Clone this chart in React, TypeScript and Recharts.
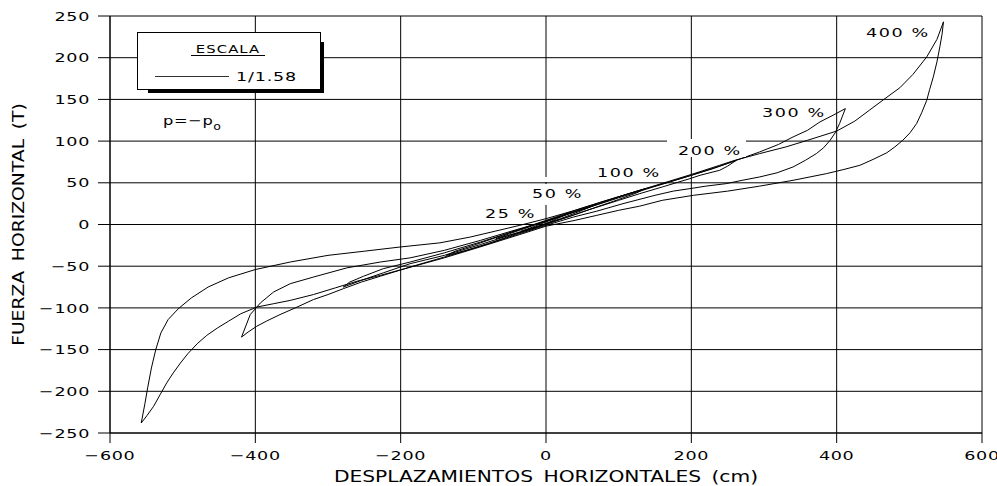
import { LineChart, Line, XAxis, YAxis, CartesianGrid } from "recharts";

const FONT = "DejaVu Sans";

const xTicks = [-600, -400, -200, 0, 200, 400, 600];
const yTicks = [-250, -200, -150, -100, -50, 0, 50, 100, 150, 200, 250];

// loops: [displacement cm, force T]; "up" = increasing displacement, "down" = returning
const loop400Up: [number, number][] = [
  [-557, -238], [-552, -215], [-548, -195], [-543, -172], [-537, -150], [-530, -130],
  [-520, -114], [-506, -101], [-488, -88], [-465, -75], [-437, -64], [-400, -54],
  [-352, -45], [-300, -37], [-250, -32], [-201, -27], [-146, -22], [-104, -15],
  [-70, -8], [-36, -1], [0, 7], [40, 17], [80, 28], [129, 41], [170, 52], [200, 60],
  [239, 71], [260, 77], [294, 85], [330, 93], [360, 101], [400, 112], [425, 124],
  [445, 137], [465, 150], [487, 164], [505, 180], [524, 201], [538, 222], [547, 243],
];
const loop400Down: [number, number][] = [
  [545, 228], [542, 213], [538, 195], [533, 177], [528, 162], [524, 149], [517, 134],
  [510, 121], [501, 110], [491, 101], [480, 93], [469, 86], [450, 78], [432, 71],
  [410, 66], [386, 61], [340, 53], [294, 46], [250, 40], [203, 35], [160, 29],
  [129, 22], [100, 17], [70, 11], [40, 5], [0, -2], [-36, -12], [-91, -27],
  [-140, -40], [-190, -52], [-228, -61], [-260, -68], [-290, -76], [-320, -84],
  [-352, -91], [-375, -95], [-398, -99], [-420, -107], [-437, -116], [-452, -124],
  [-467, -133], [-480, -143], [-493, -155], [-503, -166], [-513, -178], [-522, -190],
  [-531, -204], [-540, -218], [-549, -229], [-557, -238],
];

const loop300Up: [number, number][] = [
  [-419, -135], [-407, -108], [-398, -99], [-393, -94], [-375, -81], [-352, -71],
  [-320, -63], [-274, -52], [-228, -45], [-187, -40], [-140, -31], [-90, -19],
  [-40, -6], [0, 4], [50, 18], [100, 33], [129, 41], [170, 51], [200, 59], [239, 70],
  [262, 77], [294, 87], [320, 96], [340, 105], [360, 113], [377, 123], [395, 131],
  [412, 139],
];
const loop300Down: [number, number][] = [
  [408, 130], [404, 121], [398, 110], [391, 101], [382, 92], [372, 85], [357, 77],
  [340, 69], [318, 62], [294, 57], [270, 53], [248, 49], [220, 46], [198, 43],
  [175, 40], [150, 35], [106, 25], [70, 16], [38, 9], [0, -1], [-40, -12], [-90, -26],
  [-140, -39], [-187, -51], [-228, -62], [-254, -69], [-279, -77], [-300, -84],
  [-320, -90], [-345, -100], [-366, -108], [-385, -116], [-398, -122], [-410, -129],
  [-419, -135],
];

const loop200Up: [number, number][] = [
  [-279, -75], [-270, -69], [-251, -62], [-224, -53], [-187, -45], [-140, -34],
  [-90, -21], [-40, -7], [0, 4], [50, 18], [100, 32], [129, 40], [170, 51],
  [200, 59], [230, 67], [262, 77],
];
const loop200Down: [number, number][] = [
  [250, 70], [239, 65], [212, 59], [198, 55], [160, 45], [129, 37], [100, 29],
  [60, 18], [30, 9], [0, 1], [-40, -10], [-90, -24], [-140, -37], [-187, -47],
  [-224, -58], [-251, -66], [-279, -75],
];

const loop100Up: [number, number][] = [
  [-137, -37], [-125, -32], [-100, -25], [-60, -13], [-20, -1], [0, 5], [40, 17],
  [80, 28], [110, 36], [137, 43],
];
const loop100Down: [number, number][] = [
  [125, 38], [100, 30], [60, 18], [20, 6], [0, 0], [-40, -11], [-80, -23],
  [-110, -31], [-137, -37],
];

const loop50Up: [number, number][] = [
  [-69, -17], [-50, -11], [-20, -2], [0, 4], [30, 13], [69, 24],
];
const loop50Down: [number, number][] = [
  [50, 17], [20, 7], [0, 1], [-30, -8], [-69, -17],
];

const loop25Up: [number, number][] = [
  [-34, -8], [-15, -2], [0, 3], [15, 8], [34, 14],
];
const loop25Down: [number, number][] = [
  [15, 7], [0, 1], [-15, -4], [-34, -8],
];

const loops = [
  { name: "400", up: loop400Up, down: loop400Down },
  { name: "300", up: loop300Up, down: loop300Down },
  { name: "200", up: loop200Up, down: loop200Down },
  { name: "100", up: loop100Up, down: loop100Down },
  { name: "50", up: loop50Up, down: loop50Down },
  { name: "25", up: loop25Up, down: loop25Down },
];

const loopLabels = [
  { text: "25 %", x: 485, y: 218 },
  { text: "50 %", x: 532, y: 198 },
  { text: "100 %", x: 597, y: 177 },
  { text: "200 %", x: 678, y: 155 },
  { text: "300 %", x: 762, y: 117 },
  { text: "400 %", x: 866, y: 37 },
];

const fmt = (v: number) => String(v).replace("-", "\u2212");

// wide CAD-like lettering: DejaVu stretched horizontally
const SX = 1.35;

function WideText({ x, y, anchor, size, dy, spacing = 0.5, words = 0, sx = SX, children }: any) {
  return (
    <g transform={`translate(${x},${y}) scale(${sx},1)`}>
      <text
        x={0}
        y={0}
        dy={dy}
        textAnchor={anchor}
        fontFamily={FONT}
        fontSize={size}
        letterSpacing={spacing}
        wordSpacing={words}
        fill="#000"
        style={{ whiteSpace: "pre" }}
      >
        {children}
      </text>
    </g>
  );
}

const XTick = (p: any) => (
  <WideText x={p.x} y={p.y} anchor="middle" size={13} dy="0.71em">
    {fmt(p.payload.value)}
  </WideText>
);

const YTick = (p: any) => (
  <WideText x={p.x} y={p.y} anchor="end" size={13} dy="0.36em">
    {fmt(p.payload.value)}
  </WideText>
);

function Overlay() {
  return (
    <svg
      width={997}
      height={486}
      style={{ position: "absolute", left: 0, top: 0, pointerEvents: "none" }}
    >
      {/* text masks over the grid */}
      <rect x={667} y={139} width={79} height={18} fill="#fff" />
      <rect x={543} y={177} width={6} height={5} fill="#fff" />
      <rect x={543} y={184} width={6} height={21} fill="#fff" />

      {loopLabels.map((l) => (
        <WideText key={l.text} x={l.x} y={l.y} anchor="start" size={13} spacing={1.2}>
          {l.text}
        </WideText>
      ))}

      {/* scale box */}
      <rect x={148} y={42} width={176} height={51} fill="#000" />
      <rect x={137.5} y={32.5} width={183} height={57} fill="#fff" stroke="#000" strokeWidth={1} />
      <WideText x={228} y={52.5} anchor="middle" size={11} spacing={0.8}>
        ESCALA
      </WideText>
      <line x1={191} x2={265} y1={55.5} y2={55.5} stroke="#000" strokeWidth={1} />
      <line x1={155} x2={229} y1={76.5} y2={76.5} stroke="#333" strokeWidth={1} />
      <WideText x={236} y={81} anchor="start" size={13} spacing={0.6}>
        1/1.58
      </WideText>

      <g transform="translate(163,125) scale(1.25,1)">
        <text x={0} y={0} fontFamily={FONT} fontSize={13} letterSpacing={0.5} fill="#000">
          p=−p
          <tspan fontSize={10} dy={5}>o</tspan>
        </text>
      </g>
    </svg>
  );
}

export default function App() {
  return (
    <div style={{ position: "absolute", left: 0, top: 0, width: 997, height: 486, background: "#fff" }}>
      <LineChart width={997} height={486} margin={{ top: 16, right: 15, bottom: 0, left: 0 }}>
        <CartesianGrid stroke="#000" strokeWidth={1} />
        <XAxis
          type="number"
          dataKey="x"
          domain={[-600, 600]}
          ticks={xTicks}
          allowDataOverflow
          height={53}
          tickSize={10}
          tickMargin={8}
          tick={XTick}
          axisLine={{ stroke: "#000" }}
          tickLine={{ stroke: "#000" }}
          label={{
            content: ({ viewBox }: any) => (
              <WideText
                x={viewBox.x + viewBox.width / 2}
                y={482}
                anchor="middle"
                size={15}
                spacing={0}
                words={3}
              >
                DESPLAZAMIENTOS HORIZONTALES (cm)
              </WideText>
            ),
          }}
        />
        <YAxis
          type="number"
          dataKey="y"
          domain={[-250, 250]}
          ticks={yTicks}
          allowDataOverflow
          width={110}
          tickSize={12}
          tickMargin={8}
          tick={YTick}
          axisLine={{ stroke: "#000" }}
          tickLine={{ stroke: "#000" }}
          label={{
            content: ({ viewBox }: any) => {
              const cx = 24;
              const cy = viewBox.y + viewBox.height / 2;
              return (
                <g transform={`translate(${cx},${cy}) rotate(-90) scale(1.25,1)`}>
                  <text
                    x={0}
                    y={0}
                    textAnchor="middle"
                    fontFamily={FONT}
                    fontSize={15}
                    wordSpacing={3}
                    fill="#000"
                  >
                    FUERZA HORIZONTAL (T)
                  </text>
                </g>
              );
            },
          }}
        />
        {loops.map((l) => (
          <Line
            key={l.name}
            data={[...l.up, ...l.down].map(([x, y]) => ({ x, y }))}
            dataKey="y"
            type="linear"
            dot={false}
            activeDot={false}
            stroke="#000"
            strokeWidth={1}
            isAnimationActive={false}
          />
        ))}
      </LineChart>
      <Overlay />
    </div>
  );
}
